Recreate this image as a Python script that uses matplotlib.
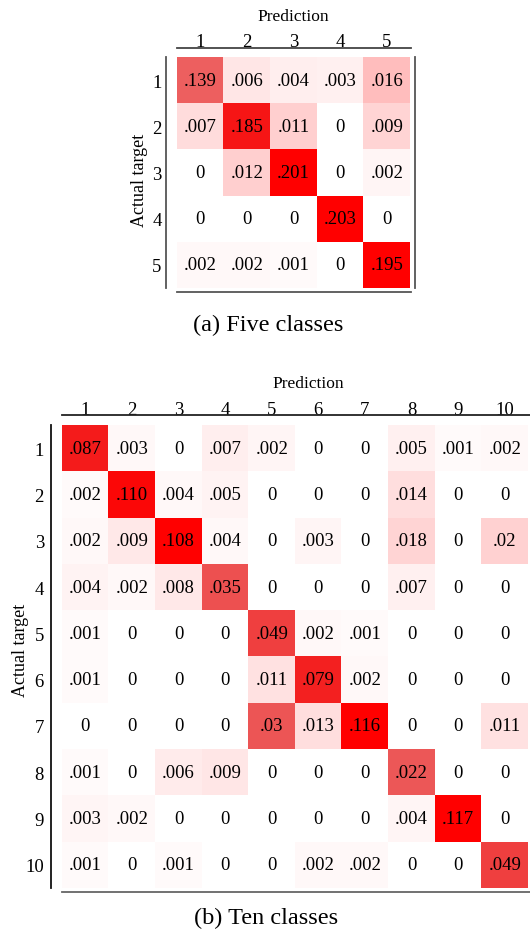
import numpy as np
import matplotlib
matplotlib.use("Agg")
import matplotlib.pyplot as plt
from matplotlib.colors import LinearSegmentedColormap

plt.rcParams['font.family'] = ['Liberation Serif', 'DejaVu Serif']

# five classes (rows: actual, cols: predicted)
five_labels = ['1', '2', '3', '4', '5']
five_text = [
    ['.139', '.006', '.004', '.003', '.016'],
    ['.007', '.185', '.011', '0', '.009'],
    ['0', '.012', '.201', '0', '.002'],
    ['0', '0', '0', '.203', '0'],
    ['.002', '.002', '.001', '0', '.195'],
]
# cell shading (0 = white, 1 = full red)
five_shade = np.array([
    [.62, .10, .07, .06, .26],
    [.14, .92, .19, 0, .17],
    [0, .19, 1.0, 0, .04],
    [0, 0, 0, 1.0, 0],
    [.03, .03, .02, 0, 1.0],
])

# ten classes
ten_labels = [str(i) for i in range(1, 11)]
ten_text = [
    ['.087', '.003', '0', '.007', '.002', '0', '0', '.005', '.001', '.002'],
    ['.002', '.110', '.004', '.005', '0', '0', '0', '.014', '0', '0'],
    ['.002', '.009', '.108', '.004', '0', '.003', '0', '.018', '0', '.02'],
    ['.004', '.002', '.008', '.035', '0', '0', '0', '.007', '0', '0'],
    ['.001', '0', '0', '0', '.049', '.002', '.001', '0', '0', '0'],
    ['.001', '0', '0', '0', '.011', '.079', '.002', '0', '0', '0'],
    ['0', '0', '0', '0', '.03', '.013', '.116', '0', '0', '.011'],
    ['.001', '0', '.006', '.009', '0', '0', '0', '.022', '0', '0'],
    ['.003', '.002', '0', '0', '0', '0', '0', '.004', '.117', '0'],
    ['.001', '0', '.001', '0', '0', '.002', '.002', '0', '0', '.049'],
]
ten_shade = np.array([
    [.90, .03, 0, .07, .04, 0, 0, .06, .02, .03],
    [.02, .97, .03, .05, 0, 0, 0, .13, 0, 0],
    [.03, .09, 1.0, .03, 0, .04, 0, .17, 0, .18],
    [.05, .03, .09, .68, 0, 0, 0, .06, 0, 0],
    [.02, 0, 0, 0, .75, .03, .02, 0, 0, 0],
    [.02, 0, 0, 0, .12, .88, .03, 0, 0, 0],
    [0, 0, 0, 0, .66, .13, 1.0, 0, 0, .12],
    [.02, 0, .08, .10, 0, 0, 0, .65, 0, 0],
    [.04, .03, 0, 0, 0, 0, 0, .04, 1.0, 0],
    [.02, 0, .02, 0, 0, .03, .03, 0, 0, .75],
])

cmap = LinearSegmentedColormap.from_list(
    'wr', [(0.0, '#ffffff'), (0.3, '#ffb3b3'), (0.65, '#ec5858'),
           (0.9, '#f41c1c'), (1.0, '#ff0000')])

W, H = 530, 937
fig = plt.figure(figsize=(W / 100, H / 100), dpi=100)
FS = 13.5


def px_axes(left, top, right, bottom):
    return fig.add_axes([left / W, 1 - bottom / H, (right - left) / W, (bottom - top) / H])


def draw(ax, shade, text, labels, lines, lab_x, pred_y, act_xy):
    ax.imshow(shade, cmap=cmap, vmin=0, vmax=1, aspect='auto')
    n = len(labels)
    for i in range(n):
        for j in range(n):
            ax.text(j, i, text[i][j], ha='center', va='center', fontsize=FS)
    ax.set_xticks(range(n))
    ax.set_xticklabels(labels, fontsize=FS)
    ax.xaxis.tick_top()
    ax.set_yticks(range(n))
    ax.set_yticklabels(labels, fontsize=FS)
    ax.tick_params(length=0, pad=lab_x)
    ax.tick_params(axis='x', pad=pred_y)
    for s in ax.spines.values():
        s.set_visible(False)
    for (x0, y0, x1, y1, c) in lines:
        ax.plot([x0, x1], [y0, y1], color=c, lw=1.3, transform=ax.transAxes, clip_on=False)
    ax.set_ylabel('Actual target', fontsize=13, va='center')
    ax.yaxis.set_label_coords(*act_xy)


# (a) five classes
ax1 = px_axes(177, 58, 410, 289)
draw(ax1, five_shade, five_text, five_labels,
     [(0.0, 1.039, 1.005, 1.039, '#444444'),
      (0.0, -0.017, 1.005, -0.017, '#555555'),
      (-0.047, 0.0, -0.047, 1.0, '#555555'),
      (1.022, 0.0, 1.022, 1.0, '#555555')],
     lab_x=11, pred_y=5, act_xy=(-0.163, 0.47))
fig.text(293 / W, 1 - 17 / H, 'Prediction', ha='center', va='center', fontsize=12.5)
fig.text(268 / W, 1 - 325 / H, '(a) Five classes', ha='center', va='center', fontsize=17.5)

# (b) ten classes
ax2 = px_axes(62, 426, 528, 889)
draw(ax2, ten_shade, ten_text, ten_labels,
     [(0.0, 1.0216, 1.01, 1.0216, '#222222'),
      (0.0, -0.009, 1.01, -0.009, '#666666'),
      (-0.0236, 0.0, -0.0236, 1.0, '#111111')],
     lab_x=13, pred_y=5, act_xy=(-0.088, 0.515))
fig.text(308 / W, 1 - 384 / H, 'Prediction', ha='center', va='center', fontsize=12.5)
fig.text(266 / W, 1 - 918 / H, '(b) Ten classes', ha='center', va='center', fontsize=17.5)

fig.savefig('out.png', dpi=100)
